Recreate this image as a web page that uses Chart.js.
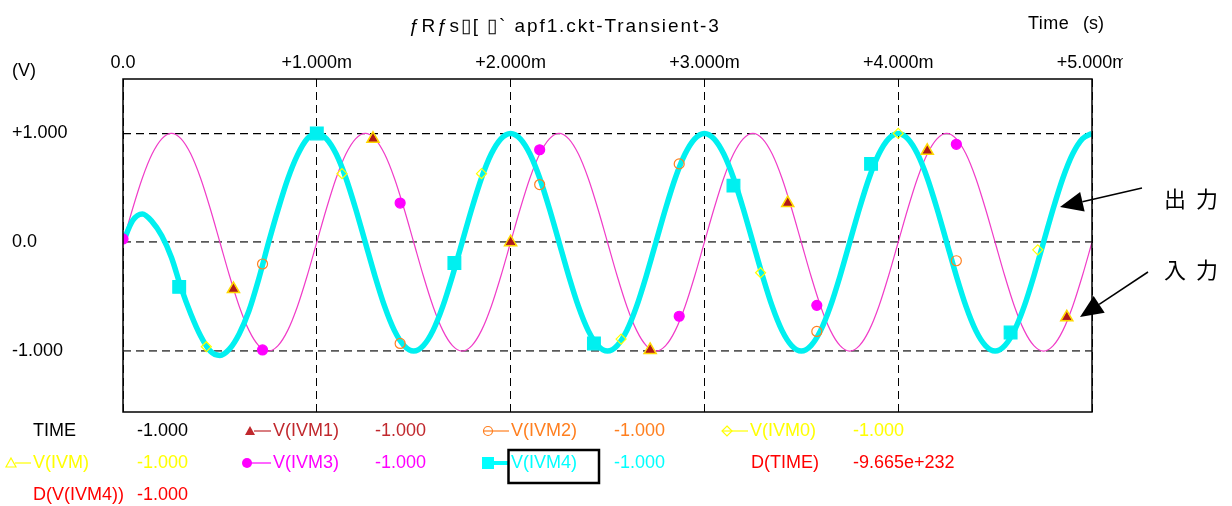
<!DOCTYPE html>
<html>
<head>
<meta charset="utf-8">
<script src="https://cdn.jsdelivr.net/npm/chart.js@4"></script>
<style>
  body { margin: 0; background: #fff; }
  canvas { display: block; }
</style>
</head>
<body>
<canvas id="waveChart" width="1232" height="506"></canvas>
<script>
// time axis in ms
const timeMs = [0,0.05,0.1,0.15,0.2,0.25,0.3,0.35,0.4,0.45,0.5,0.55,0.6,0.65,0.7,0.75,0.8,0.85,0.9,0.95,
  1,1.05,1.1,1.15,1.2,1.25,1.3,1.35,1.4,1.45,1.5,1.55,1.6,1.65,1.7,1.75,1.8,1.85,1.9,1.95,
  2,2.05,2.1,2.15,2.2,2.25,2.3,2.35,2.4,2.45,2.5,2.55,2.6,2.65,2.7,2.75,2.8,2.85,2.9,2.95,
  3,3.05,3.1,3.15,3.2,3.25,3.3,3.35,3.4,3.45,3.5,3.55,3.6,3.65,3.7,3.75,3.8,3.85,3.9,3.95,
  4,4.05,4.1,4.15,4.2,4.25,4.3,4.35,4.4,4.45,4.5,4.55,4.6,4.65,4.7,4.75,4.8,4.85,4.9,4.95,5];

// input (magenta)
const inputV = [0,0.31,0.59,0.81,0.95,1,0.95,0.81,0.59,0.31,0,-0.31,-0.59,-0.81,-0.95,-1,-0.95,-0.81,-0.59,-0.31,
  0,0.31,0.59,0.81,0.95,1,0.95,0.81,0.59,0.31,0,-0.31,-0.59,-0.81,-0.95,-1,-0.95,-0.81,-0.59,-0.31,
  0,0.31,0.59,0.81,0.95,1,0.95,0.81,0.59,0.31,0,-0.31,-0.59,-0.81,-0.95,-1,-0.95,-0.81,-0.59,-0.31,
  0,0.31,0.59,0.81,0.95,1,0.95,0.81,0.59,0.31,0,-0.31,-0.59,-0.81,-0.95,-1,-0.95,-0.81,-0.59,-0.31,
  0,0.31,0.59,0.81,0.95,1,0.95,0.81,0.59,0.31,0,-0.31,-0.59,-0.81,-0.95,-1,-0.95,-0.81,-0.59,-0.31,0];

// output V(IVM4) (cyan)
const outputV = [0,0.2,0.26,0.19,0.06,-0.14,-0.42,-0.66,-0.86,-1,-1.04,-0.98,-0.84,-0.63,-0.34,-0.01,0.3,0.58,0.8,0.95,
  1,0.95,0.81,0.59,0.31,0,-0.31,-0.59,-0.81,-0.95,-1,-0.95,-0.81,-0.59,-0.31,0,0.31,0.59,0.81,0.95,
  1,0.95,0.81,0.59,0.31,0,-0.31,-0.59,-0.81,-0.95,-1,-0.95,-0.81,-0.59,-0.31,0,0.31,0.59,0.81,0.95,
  1,0.95,0.81,0.59,0.31,0,-0.31,-0.59,-0.81,-0.95,-1,-0.95,-0.81,-0.59,-0.31,0,0.31,0.59,0.81,0.95,
  1,0.95,0.81,0.59,0.31,0,-0.31,-0.59,-0.81,-0.95,-1,-0.95,-0.81,-0.59,-0.31,0,0.31,0.59,0.81,0.95,1];

// trace markers
const ivm1T = [0.57,1.29,2.0,2.72,3.43,4.15,4.87];
const ivm1V = [-0.43,0.95,0.0,-0.99,0.36,0.84,-0.69];
const ivmT = [0.57,1.29,2.0,2.72,3.43,4.15,4.87];
const ivmV = [-0.43,0.95,0.0,-0.99,0.36,0.84,-0.69];
const ivm2T = [0.72,1.43,2.15,2.87,3.58,4.30];
const ivm2V = [-0.2,-0.93,0.53,0.72,-0.82,-0.17];
const ivm0T = [0.43,1.13,1.85,2.57,3.29,4.0,4.72];
const ivm0V = [-0.96,0.63,0.63,-0.89,-0.28,1.0,-0.07];
const ivm3T = [0,0.72,1.43,2.15,2.87,3.58,4.30];
const ivm3V = [0.03,-0.99,0.36,0.85,-0.68,-0.58,0.9];
const ivm4T = [0.29,1.0,1.71,2.43,3.15,3.86,4.58];
const ivm4V = [-0.41,1.0,-0.19,-0.93,0.52,0.72,-0.83];

const xTicks = [0,1,2,3,4,5];
const xTickLabels = ['0.0','+1.000m','+2.000m','+3.000m','+4.000m','+5.000m'];
const yTicks = [-1,0,1];
const yTickLabels = ['-1.000','0.0','+1.000'];

const legendNames = ['TIME','V(IVM1)','V(IVM2)','V(IVM0)','V(IVM)','V(IVM3)','V(IVM4)','D(TIME)','D(V(IVM4))'];
const legendValues = ['-1.000','-1.000','-1.000','-1.000','-1.000','-1.000','-1.000','-9.665e+232','-1.000'];

const titleText = 'ƒRƒs▯[ ▯` apf1.ckt-Transient-3';

function pts(ts, vs) { return ts.map((t, i) => ({x: t, y: vs[i]})); }

const FONT = '"Liberation Sans", Arial, sans-serif';
Chart.defaults.font.family = FONT;
Chart.defaults.font.size = 18;
Chart.defaults.color = '#000';

function marker(label, data, style, fill, stroke, r, order, bw) {
    return {
        label: label, data: data, showLine: false,
        pointStyle: style, pointRadius: r, pointHoverRadius: r,
        backgroundColor: fill, borderColor: stroke, pointBorderWidth: bw || 1.2,
        order: order
    };
}

// extra text, frame, arrows and the bottom value legend
const overlay = {
    id: 'overlay',
    afterDraw(chart) {
        const ctx = chart.ctx;
        const a = chart.chartArea;
        ctx.save();
        ctx.setLineDash([]);
        ctx.strokeStyle = '#000';
        ctx.lineWidth = 1.5;
        ctx.strokeRect(a.left, a.top, a.right - a.left, a.bottom - a.top);

        // last tick label is cut off in the original
        ctx.fillStyle = '#fff';
        ctx.fillRect(1123, 46, 60, 30);

        function txt(s, x, y, color, size, align, fam, spacing) {
            ctx.font = (size || 18) + 'px ' + (fam || FONT);
            ctx.fillStyle = color;
            ctx.textAlign = align || 'left';
            ctx.textBaseline = 'middle';
            ctx.letterSpacing = spacing || '0px';
            ctx.fillText(s, x, y);
            ctx.letterSpacing = '0px';
        }

        txt(titleText, 409, 27, '#000', 19, 'left', FONT, '1.9px');
        txt('Time', 1028, 24, '#000', 18, 'left', FONT, '0.5px');
        txt('(s)', 1083, 24, '#000', 18);
        txt('(V)', 12, 71, '#000', 18);

        // legend rows
        const rowY = [431, 463, 495];
        const cols = [
            {n: 0, row: 0, nx: 33, vx: 137, c: '#000'},
            {n: 1, row: 0, nx: 273, vx: 375, c: '#c0282d', m: 'tri', mx: 250},
            {n: 2, row: 0, nx: 511, vx: 614, c: '#ff7f1f', m: 'ocirc', mx: 488},
            {n: 3, row: 0, nx: 750, vx: 853, c: '#ffff00', m: 'diam', mx: 727},
            {n: 4, row: 1, nx: 33, vx: 137, c: '#ffff00', m: 'otri', mx: 11},
            {n: 5, row: 1, nx: 273, vx: 375, c: '#ff00ff', m: 'dot', mx: 247},
            {n: 6, row: 1, nx: 511, vx: 614, c: '#00ffff', m: 'sq', mx: 488},
            {n: 7, row: 1, nx: 751, vx: 853, c: '#ff0000'},
            {n: 8, row: 2, nx: 33, vx: 137, c: '#ff0000'}
        ];
        cols.forEach(e => {
            const y = rowY[e.row];
            txt(legendNames[e.n], e.nx, y, e.c);
            txt(legendValues[e.n], e.vx, y, e.c);
            if (!e.m) return;
            ctx.strokeStyle = e.c;
            ctx.fillStyle = e.c;
            ctx.lineWidth = e.m === 'sq' ? 4 : 1.2;
            ctx.beginPath();
            ctx.moveTo(e.mx + 4, y);
            ctx.lineTo(e.nx - 2, y);
            ctx.stroke();
            ctx.lineWidth = 1.2;
            ctx.beginPath();
            if (e.m === 'tri' || e.m === 'otri') {
                ctx.moveTo(e.mx, y - 5); ctx.lineTo(e.mx + 5, y + 4); ctx.lineTo(e.mx - 5, y + 4); ctx.closePath();
                if (e.m === 'tri') ctx.fill(); else ctx.stroke();
            } else if (e.m === 'ocirc') {
                ctx.arc(e.mx, y, 4.5, 0, Math.PI * 2); ctx.stroke();
                ctx.beginPath(); ctx.moveTo(e.mx - 4.5, y); ctx.lineTo(e.mx + 4.5, y); ctx.stroke();
            } else if (e.m === 'diam') {
                ctx.moveTo(e.mx, y - 5); ctx.lineTo(e.mx + 5, y); ctx.lineTo(e.mx, y + 5); ctx.lineTo(e.mx - 5, y); ctx.closePath();
                ctx.stroke();
                ctx.beginPath(); ctx.moveTo(e.mx - 5, y); ctx.lineTo(e.mx + 5, y); ctx.stroke();
            } else if (e.m === 'dot') {
                ctx.arc(e.mx, y, 5, 0, Math.PI * 2); ctx.fill();
            } else if (e.m === 'sq') {
                ctx.fillRect(e.mx - 6, y - 6, 12, 12);
            }
        });
        ctx.strokeStyle = '#000';
        ctx.lineWidth = 2.5;
        ctx.strokeRect(508.5, 450, 90.5, 33);

        // annotations
        function arrow(x1, y1, x2, y2) {
            const ang = Math.atan2(y2 - y1, x2 - x1);
            const len = 23, hw = 10;
            const bx = x2 - len * Math.cos(ang), by = y2 - len * Math.sin(ang);
            ctx.strokeStyle = '#000';
            ctx.fillStyle = '#000';
            ctx.lineWidth = 1.5;
            ctx.beginPath(); ctx.moveTo(x1, y1); ctx.lineTo(bx, by); ctx.stroke();
            ctx.beginPath();
            ctx.moveTo(x2, y2);
            ctx.lineTo(bx + hw * Math.sin(ang), by - hw * Math.cos(ang));
            ctx.lineTo(bx - hw * Math.sin(ang), by + hw * Math.cos(ang));
            ctx.closePath(); ctx.fill();
        }
        arrow(1142, 188, 1060, 207);
        arrow(1148, 272, 1080, 317);
        const jp = '"Noto Sans CJK JP", sans-serif';
        txt('出', 1164, 199, '#000', 22, 'left', jp);
        txt('力', 1196, 199, '#000', 22, 'left', jp);
        txt('入', 1164, 270, '#000', 22, 'left', jp);
        txt('力', 1196, 270, '#000', 22, 'left', jp);
        ctx.restore();
    }
};

new Chart(document.getElementById('waveChart'), {
    type: 'line',
    data: {
        datasets: [
            marker('V(IVM)', pts(ivmT, ivmV), 'triangle', 'rgba(0,0,0,0)', '#ffd800', 7, 0, 1.5),
            marker('V(IVM1)', pts(ivm1T, ivm1V), 'triangle', '#b01818', '#b01818', 5, 1),
            marker('V(IVM2)', pts(ivm2T, ivm2V), 'circle', 'rgba(0,0,0,0)', '#ff8020', 5, 2),
            marker('V(IVM0)', pts(ivm0T, ivm0V), 'rectRot', 'rgba(0,0,0,0)', '#ffff00', 5, 3),
            marker('V(IVM3)', pts(ivm3T, ivm3V), 'circle', '#ff00ff', '#ff00ff', 5, 4),
            marker('V(IVM4)', pts(ivm4T, ivm4V), 'rect', '#00f0f0', '#00f0f0', 9, 5),
            {
                label: 'V(IVM4) line',
                data: pts(timeMs, outputV),
                borderColor: '#00f0f0',
                borderWidth: 5.5,
                pointRadius: 0,
                cubicInterpolationMode: 'monotone',
                order: 8
            },
            {
                label: 'V(IVM3) line',
                data: pts(timeMs, inputV),
                borderColor: '#f03cc8',
                borderWidth: 1.2,
                pointRadius: 0,
                cubicInterpolationMode: 'monotone',
                order: 9
            }
        ]
    },
    options: {
        responsive: false,
        animation: false,
        devicePixelRatio: 1,
        layout: { padding: { left: 12, right: 140, top: 0, bottom: 94 } },
        plugins: {
            legend: { display: false },
            title: { display: false },
            tooltip: { enabled: false }
        },
        scales: {
            x: {
                type: 'linear',
                position: 'top',
                min: 0,
                max: 5,
                afterFit: s => { s.height = 79; },
                afterBuildTicks: s => { s.ticks = xTicks.map(v => ({value: v})); },
                ticks: {
                    autoSkip: false,
                    maxRotation: 0,
                    padding: 5,
                    callback: v => xTickLabels[xTicks.indexOf(v)]
                },
                grid: { color: '#000', lineWidth: 1, drawTicks: false },
                border: { display: false, dash: [8, 5] }
            },
            y: {
                min: -1.56,
                max: 1.5,
                afterFit: s => { s.width = 111; },
                afterBuildTicks: s => { s.ticks = yTicks.map(v => ({value: v})); },
                ticks: {
                    crossAlign: 'far',
                    padding: 0,
                    callback: v => yTickLabels[yTicks.indexOf(v)]
                },
                grid: {
                    color: c => (c.tick && c.tick.value === 1) ? '#000' : '#5a5a5a',
                    lineWidth: c => (c.tick && c.tick.value === 1) ? 1.2 : 1.8,
                    drawTicks: false
                },
                border: { display: false, dash: [8, 5] }
            }
        }
    },
    plugins: [overlay]
});
</script>
</body>
</html>
